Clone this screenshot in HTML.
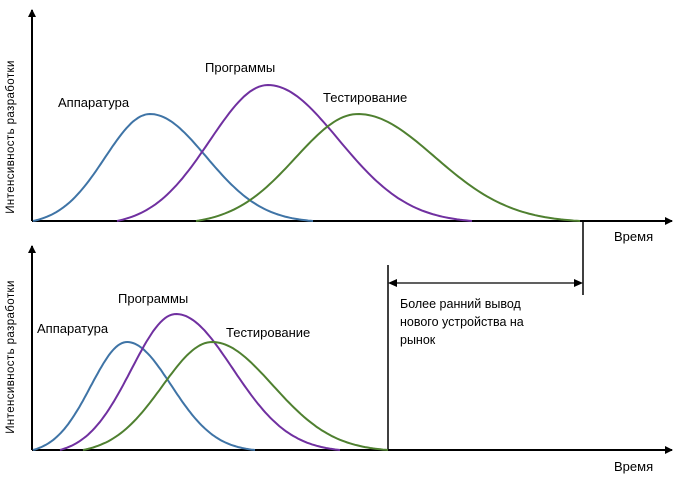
<!DOCTYPE html>
<html><head><meta charset="utf-8"><style>
body{margin:0;background:#fff;}
svg{display:block;font-family:"Liberation Sans",sans-serif;}
</style></head><body>
<svg id="c" width="678" height="480" viewBox="0 0 678 480">
<defs><marker id="ah" markerWidth="8" markerHeight="8" refX="7" refY="4" orient="auto" markerUnits="userSpaceOnUse"><path d="M0,0 L8,4 L0,8 z" fill="#000"/></marker></defs>
<g id="axes"></g><g id="curves"></g><g id="labels"></g>
</svg>
<script>
// Series names
const seriesNames = ["Аппаратура", "Программы", "Тестирование"];
const seriesColors = ["#3f74a6", "#7030a0", "#4f8030"];
// Top panel: start, peak and end times, and peak intensity
const topStart = [1, 85, 164];
const topPeak = [118, 236, 326];
const topEnd = [281, 440, 548];
const topHeight = [107, 136, 107];
// Bottom panel
const botStart = [1, 28, 51];
const botPeak = [95, 144, 180];
const botEnd = [223, 308, 356];
const botHeight = [108, 136, 108];

const NS = "http://www.w3.org/2000/svg";
function mk(tag, attrs, parent){const e=document.createElementNS(NS,tag);for(const k in attrs)e.setAttribute(k,attrs[k]);parent.appendChild(e);return e;}
const X0 = 32;
const xs = t => X0 + t;
const panels = [
  {base:221, top:10, start:topStart, peak:topPeak, end:topEnd, h:topHeight, name:'top',
   labelPos:[[58,107],[205,72],[323,102]], titleY:137, timeY:241},
  {base:450, top:246, start:botStart, peak:botPeak, end:botEnd, h:botHeight, name:'bottom',
   labelPos:[[37,333],[118,303],[226,337]], titleY:357, timeY:471}
];
const ax = document.getElementById('axes'), cv = document.getElementById('curves'), lb = document.getElementById('labels');
panels.forEach(p=>{
  const ys = v => p.base - v;
  let a = mk('line',{x1:X0,y1:p.base,x2:X0,y2:p.top,stroke:'#000','stroke-width':2,'marker-end':'url(#ah)'},ax);
  
  
  a = mk('line',{x1:X0,y1:p.base,x2:672,y2:p.base,stroke:'#000','stroke-width':2,'marker-end':'url(#ah)'},ax);
  
  
  let t = mk('text',{x:14,y:p.titleY,'font-size':11.5,'letter-spacing':0.4,'text-anchor':'middle',transform:`rotate(-90 14 ${p.titleY})`},lb);
  t.textContent='Интенсивность разработки';
  
  
  t = mk('text',{x:614,y:p.timeY,'font-size':13},lb);
  t.textContent='Время';
  
  
  seriesNames.forEach((n,i)=>{
    const s=p.start[i], pk=p.peak[i], e=p.end[i], H=p.h[i];
    const kl=2.6, kr=2.9;
    const gl0=Math.exp(-0.5*kl*kl), gr0=Math.exp(-0.5*kr*kr);
    const pts=[];
    for(let k=0;k<=120;k++){
      const tt=s+(e-s)*k/120;
      let v;
      if(tt<pk){const g=Math.exp(-0.5*((tt-pk)/((pk-s)/kl))**2);v=H*(g-gl0)/(1-gl0);}
      else{const g=Math.exp(-0.5*((tt-pk)/((e-pk)/kr))**2);v=H*(g-gr0)/(1-gr0);}
      pts.push(xs(tt).toFixed(1)+','+ys(v).toFixed(1));
    }
    const c = mk('polyline',{points:pts.join(' '),fill:'none',stroke:seriesColors[i],'stroke-width':2},cv);
    
    
    const l = mk('text',{x:p.labelPos[i][0],y:p.labelPos[i][1],'font-size':13},lb);
    l.textContent=n;
    
    
  });
});
// time-to-market annotation
let v = mk('line',{x1:583,y1:221,x2:583,y2:295,stroke:'#000','stroke-width':1.5},ax);


v = mk('line',{x1:388,y1:265,x2:388,y2:450,stroke:'#000','stroke-width':1.5},ax);


const ar = mk('line',{x1:396,y1:283,x2:575,y2:283,stroke:'#000','stroke-width':1.2},ax);


mk('path',{d:'M388,283 L397,279 L397,287 z',fill:'#000'},ax);
mk('path',{d:'M583,283 L574,279 L574,287 z',fill:'#000'},ax);
const lines=['Более ранний вывод','нового устройства на','рынок'];
lines.forEach((s,i)=>{
  const t = mk('text',{x:400,y:308+i*18,'font-size':12.5},lb);
  t.textContent=s;
  
  
});
</script>
</body></html>
